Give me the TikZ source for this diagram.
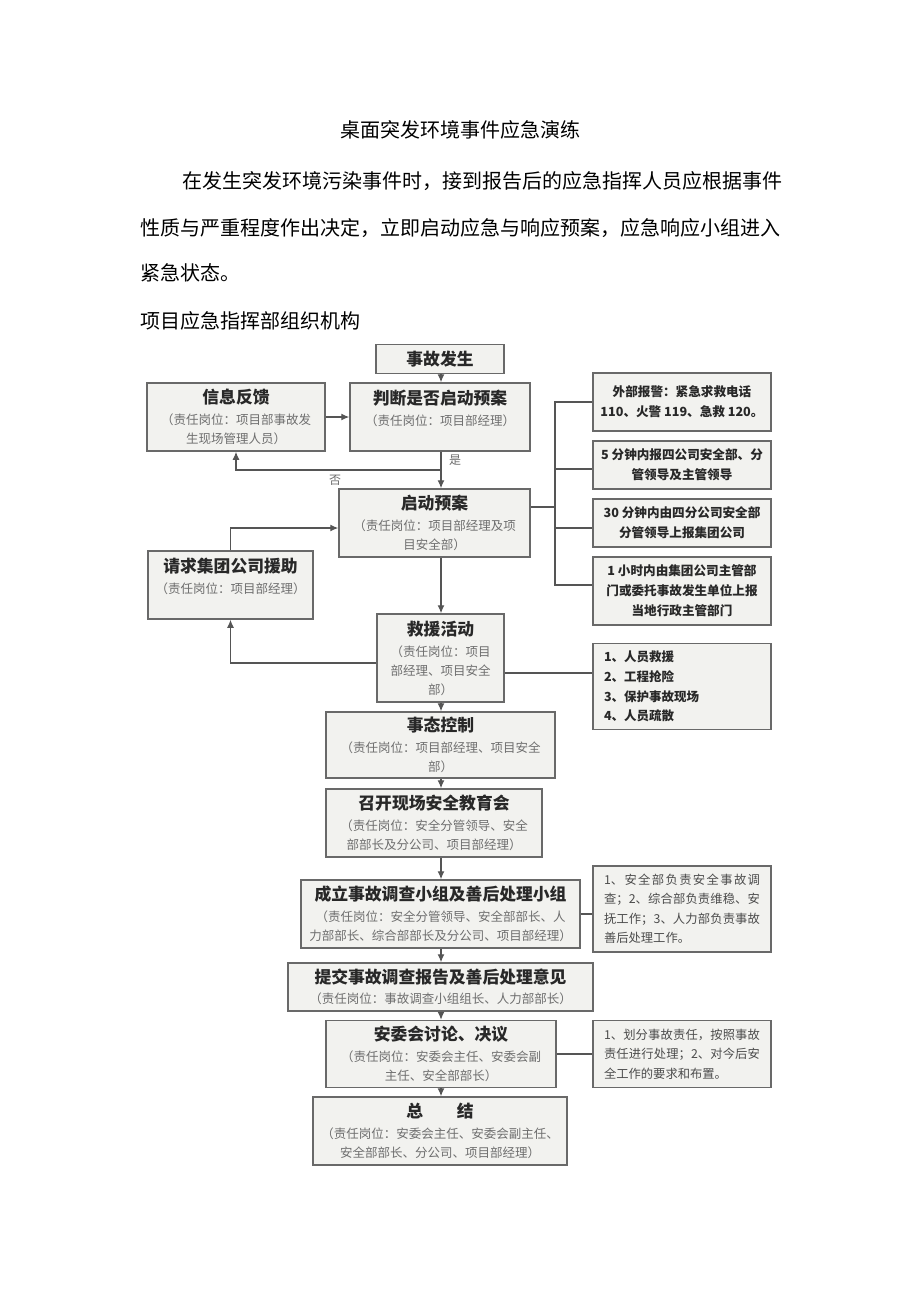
\documentclass[tikz,border=0pt]{standalone}
\usepackage{fontspec}
\setmainfont{Noto Sans CJK SC}
\usepackage{xcolor}
\usetikzlibrary{arrows.meta, positioning}
\XeTeXlinebreaklocale "zh"
\XeTeXlinebreakskip=0pt plus 2pt
\definecolor{boxfill}{RGB}{242,242,239}
\definecolor{boxline}{RGB}{105,105,105}
\definecolor{linkgray}{RGB}{85,85,85}
\definecolor{titlegray}{RGB}{40,40,40}
\definecolor{subgray}{RGB}{110,110,110}
\newcommand{\boxtitle}[1]{{\fontsize{16.8}{20}\selectfont\bfseries\color{titlegray}#1}}
\tikzset{every picture/.style={line width=1.2pt}}
\tikzset{
  box/.style={draw=boxline, fill=boxfill, line width=1.5pt, inner sep=0pt,
    align=center, text=subgray, font=\fontsize{12.5}{19}\selectfont},
  sidebox/.style={box, minimum width=178pt, text=titlegray,
    font=\fontsize{12.6}{20}\selectfont\bfseries},
  notebox/.style={box, text width=156pt, inner xsep=11pt, align=justify,
    text=black!70, font=\fontsize{12.3}{19.5}\selectfont},
  link/.style={draw=linkgray, line width=1.2pt},
  arrow/.style={link, -{Latex[length=8pt, width=7pt]}},
  para/.style={anchor=west, inner sep=0pt, font=\fontsize{20}{20}\selectfont},
  mark label/.style={inner sep=0pt, text=subgray, font=\fontsize{12}{12}\selectfont}
}
\begin{document}
\begin{tikzpicture}[x=1pt, y=-1pt]
\fill[white] (0,0) rectangle (920,1301);
\useasboundingbox (0,0) rectangle (920,1301);

% heading and paragraph
\node[inner sep=0pt, font=\fontsize{20}{20}\selectfont] (doctitle) at (460,130) {桌面突发环境事件应急演练};
\node[para] (line1) at (182,181) {在发生突发环境污染事件时，接到报告后的应急指挥人员应根据事件};
\node[para] (line2) at (140,228) {性质与严重程度作出决定，立即启动应急与响应预案，应急响应小组进入};
\node[para] (line3) at (140,273) {紧急状态。};
\node[para] (orgtitle) at (140,321) {项目应急指挥部组织机构};

% main column
\coordinate (col) at (441,0);
\node[box, minimum width=128pt, minimum height=29pt] (occur) at (440,359) {\boxtitle{事故发生}};
\node[box, minimum width=180pt, minimum height=68pt] (judge) at (440,417)
  {\boxtitle{判断是否启动预案}\\[2pt]（责任岗位：项目部经理）\\ \mbox{}};
\node[box, minimum width=178pt, minimum height=68pt] (info) at (236,417)
  {\boxtitle{信息反馈}\\[2pt]（责任岗位：项目部事故发\\生现场管理人员）};
\node[box, minimum width=191pt, minimum height=68pt] (start) at (434.5,523)
  {\boxtitle{启动预案}\\[2pt]（责任岗位：项目部经理及项\\目安全部）};
\node[box, minimum width=165pt, minimum height=68pt] (help) at (230.5,585)
  {\boxtitle{请求集团公司援助}\\[2pt]（责任岗位：项目部经理）\\ \mbox{}};
\node[box, minimum width=127pt, minimum height=88pt] (rescue) at (440.5,658)
  {\boxtitle{救援活动}\\[2pt]（责任岗位：项目\\部经理、项目安全\\部）};
\node[box, minimum width=229pt, minimum height=66pt] (control) at (440.5,745)
  {\boxtitle{事态控制}\\[2pt]（责任岗位：项目部经理、项目安全\\部）};
\node[box, minimum width=216pt, minimum height=68pt] (meeting) at (434,823)
  {\boxtitle{召开现场安全教育会}\\[2pt]（责任岗位：安全分管领导、安全\\部部长及分公司、项目部经理）};
\node[box, minimum width=279pt, minimum height=68pt] (team) at (440.5,914)
  {\boxtitle{成立事故调查小组及善后处理小组}\\[2pt]（责任岗位：安全分管领导、安全部部长、人\\力部部长、综合部部长及分公司、项目部经理）};
\node[box, minimum width=305pt, minimum height=48pt] (report) at (440.5,987)
  {\boxtitle{提交事故调查报告及善后处理意见}\\[1pt]（责任岗位：事故调查小组组长、人力部部长）};
\node[box, minimum width=230pt, minimum height=67pt] (council) at (441,1054)
  {\boxtitle{安委会讨论、决议}\\[2pt]（责任岗位：安委会主任、安委会副\\主任、安全部部长）};
\node[box, minimum width=254pt, minimum height=68pt] (summary) at (440,1131)
  {\boxtitle{总\qquad 结}\\[2pt]（责任岗位：安委会主任、安委会副主任、\\安全部部长、分公司、项目部经理）};

% right side
\node[sidebox, minimum height=58pt] (r1) at (682,402) {外部报警：紧急求救电话\\110、火警 119、急救 120。};
\node[sidebox, minimum height=48pt] (r2) at (682,465) {5 分钟内报四公司安全部、分\\管领导及主管领导};
\node[sidebox, minimum height=48pt] (r3) at (682,523) {30 分钟内由四分公司安全部\\分管领导上报集团公司};
\node[sidebox, minimum height=68pt] (r4) at (682,591) {1 小时内由集团公司主管部\\门或委托事故发生单位上报\\当地行政主管部门};
\node[box, text width=156pt, inner xsep=11pt, align=left, minimum height=86pt,
  text=titlegray, font=\fontsize{12.5}{19.7}\selectfont\bfseries] (tasks) at (682,686.5)
  {1、人员救援\\2、工程抢险\\3、保护事故现场\\4、人员疏散};
\node[notebox, minimum height=86pt] (teamnote) at (682,909)
  {1、安全部负责安全事故调\linebreak 查；2、综合部负责维稳、安\linebreak 抚工作；3、人力部负责事故\linebreak 善后处理工作。};
\node[notebox, minimum height=67pt] (councilnote) at (682,1054)
  {1、划分事故责任，按照事故\linebreak 责任进行处理；2、对今后安\linebreak 全工作的要求和布置。};

% arrows down the column
\draw[arrow] (occur.south -| col) -- (judge.north -| col);
\draw[arrow] (judge.south -| col) -- (start.north -| col);
\draw[arrow] (start.south -| col) -- (rescue.north -| col);
\draw[arrow] (rescue.south -| col) -- (control.north -| col);
\draw[arrow] (control.south -| col) -- (meeting.north -| col);
\draw[arrow] (meeting.south -| col) -- (team.north -| col);
\draw[arrow] (team.south -| col) -- (report.north -| col);
\draw[arrow] (report.south -| col) -- (council.north -| col);
\draw[arrow] (council.south -| col) -- (summary.north -| col);

% yes / no branch
\coordinate (split) at (441,470);
\draw[arrow] (info.east) -- (judge.west);
\draw[arrow] (split) -| (info.south);
\node[mark label] (yes) at (455,460) {是};
\node[mark label] (no) at (335,480) {否};

% help loop
\draw[arrow] (help.north) |- ([yshift=-5pt]start.west);
\draw[arrow] ([yshift=-5pt]rescue.west) -| (help.south);

% reporting bus
\coordinate (bus) at (555,507);
\coordinate (b1) at (555,402);
\coordinate (b2) at (555,469);
\coordinate (b3) at (555,528);
\coordinate (b4) at (555,585);
\draw[link] (start.east |- bus) -- (bus);
\draw[link] (r1.west |- b1) -- (b1) -- (b4) -- (r4.west |- b4);
\draw[link] (b2) -- (r2.west |- b2);
\draw[link] (b3) -- (r3.west |- b3);

% side notes
\draw[link] ([yshift=-15pt]rescue.east) -- ([yshift=-15pt]rescue.east -| tasks.west);
\draw[link] (team.east) -- (team.east -| teamnote.west);
\draw[link] (council.east) -- (council.east -| councilnote.west);
\end{tikzpicture}
\end{document}
